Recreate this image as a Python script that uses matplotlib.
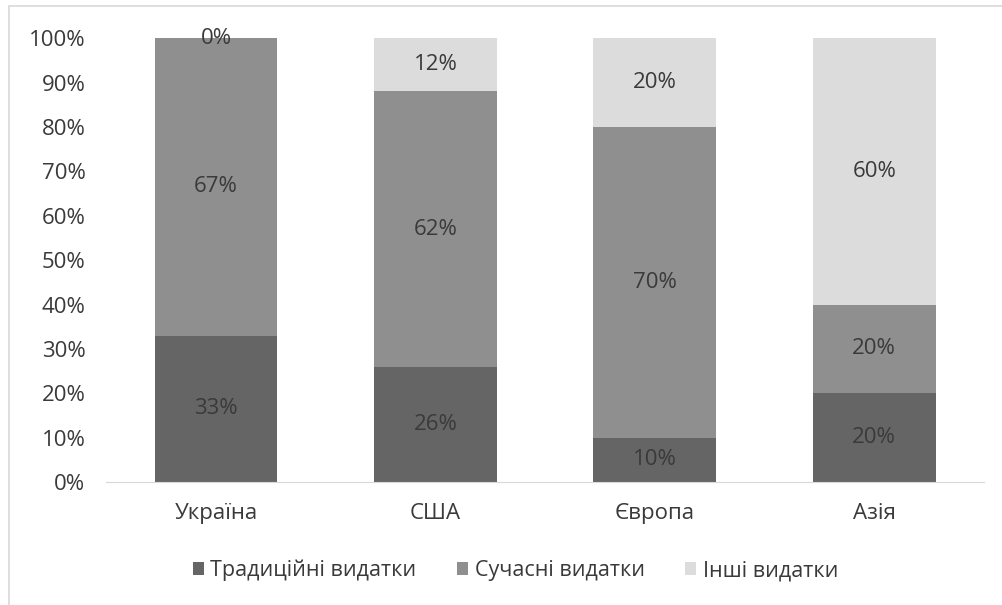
import numpy as np
import matplotlib.pyplot as plt
from matplotlib.patches import Rectangle

plt.rcParams['font.family'] = ['Open Sans', 'DejaVu Sans']

regions = ['Україна', 'США', 'Європа', 'Азія']
traditional = [33, 26, 10, 20]
modern = [67, 62, 70, 20]
other = [0, 12, 20, 60]
series_names = ['Традиційні видатки', 'Сучасні видатки', 'Інші видатки']
colors = ['#656565', '#8f8f8f', '#dcdcdc']
text_col = '#3a3a3a'

fig = plt.figure(figsize=(10.03, 6.05), dpi=100)
ax = fig.add_axes([0.106, 0.203, 0.875, 0.734])

# outer chart frame
fig.patches.append(Rectangle((9 / 1003, -0.01), 1.02, 1 - 6 / 605 + 0.01,
                             transform=fig.transFigure, fill=False,
                             edgecolor='#d9d9d9', lw=1.2))

x = np.arange(len(regions))
bottom = np.zeros(len(regions))
for vals, name, c in zip([traditional, modern, other], series_names, colors):
    v = np.array(vals, dtype=float)
    ax.bar(x, v, 0.56, bottom=bottom, color=c, label=name)
    for xi, b, h in zip(x, bottom, v):
        ax.text(xi, b + h / 2, f'{int(h)}%', ha='center', va='center',
                fontsize=16, color=text_col)
    bottom += v

ax.set_xlim(-0.5, len(regions) - 0.5)
ax.set_ylim(0, 100)
ax.set_yticks(range(0, 101, 10))
ax.set_yticklabels([f'{t}%' for t in range(0, 101, 10)])
ax.set_xticks(x)
ax.set_xticklabels(regions)
ax.tick_params(length=0, labelsize=16, labelcolor=text_col)
ax.tick_params(axis='y', pad=15)
ax.tick_params(axis='x', pad=15)
for s in ['top', 'right', 'left']:
    ax.spines[s].set_visible(False)
ax.spines['bottom'].set_color('#d9d9d9')

leg = fig.legend(loc='center', bbox_to_anchor=(0.514, 0.057), ncol=3,
                 frameon=False, fontsize=15.5, handlelength=0.5,
                 handleheight=0.5, handletextpad=0.3, columnspacing=1.9)
for t in leg.get_texts():
    t.set_color(text_col)

fig.savefig('out.png', dpi=100)
